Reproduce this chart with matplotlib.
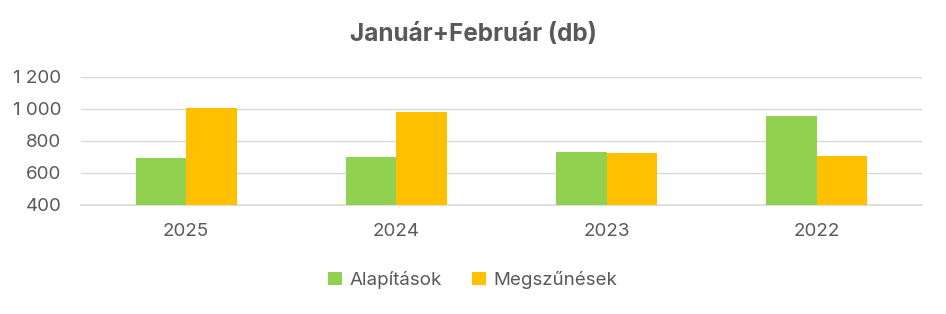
import matplotlib
matplotlib.use("Agg")
import matplotlib.pyplot as plt
import numpy as np
from matplotlib.ticker import FuncFormatter

categories = ["2025", "2024", "2023", "2022"]
alapitasok = [690, 696, 729, 956]
megszunesek = [1003, 979, 721, 706]
series_names = ["Alapítások", "Megszűnések"]
title = "Január+Február (db)"

plt.rcParams['font.family'] = ['Inter', 'DejaVu Sans']
txt = '#595959'

fig = plt.figure(figsize=(9.46, 3.14), dpi=100)
ax = fig.add_axes([81/946, 1-204.7/314, (922-81)/946, 128/314])

x = np.arange(len(categories))
w = 0.24
ax.bar(x - w/2, alapitasok, w, color='#92D050', label=series_names[0], zorder=3)
ax.bar(x + w/2, megszunesek, w, color='#FFC000', label=series_names[1], zorder=3)

ax.set_xlim(-0.5, len(categories) - 0.5)
ax.set_ylim(400, 1200)
ax.set_yticks([400, 600, 800, 1000, 1200])
ax.yaxis.set_major_formatter(FuncFormatter(lambda v, p: f"{int(v):,}".replace(",", " ")))
ax.set_xticks(x)
ax.set_xticklabels(categories)
ax.grid(axis='y', color='#d9d9d9', linewidth=1, zorder=0)
for s in ['top', 'right', 'left']:
    ax.spines[s].set_visible(False)
ax.spines['bottom'].set_color('#d9d9d9')
ax.spines['bottom'].set_linewidth(1.2)
ax.tick_params(axis='both', length=0, colors=txt, labelsize=13.5)
ax.tick_params(axis='x', pad=13)
ax.tick_params(axis='y', pad=14)

fig.text(0.5, 1-35/314, title, ha='center', va='center', fontsize=17.5, fontweight='bold', color=txt)
fig.legend(loc='center', bbox_to_anchor=(0.5, 1-280/314), ncol=2, frameon=False,
           fontsize=13.5, labelcolor=txt, handlelength=0.75, handleheight=0.75,
           columnspacing=1.6, handletextpad=0.4)

fig.savefig("out.png", dpi=100)
